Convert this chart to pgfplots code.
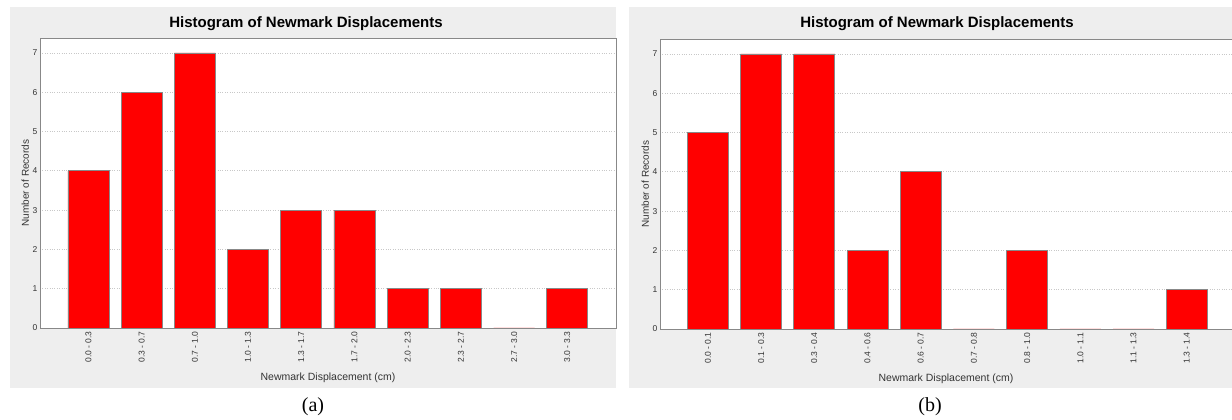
\documentclass[border=0pt]{standalone}
\usepackage{pgfplots}
\pgfplotsset{compat=1.18}
\usepackage{fontspec}
\setmainfont{Liberation Sans}
\newfontfamily\seriffont{Liberation Serif}
\definecolor{panelgray}{HTML}{EEEEEE}
\definecolor{axgray}{HTML}{888888}
\definecolor{gridgray}{HTML}{C8C8C8}
\definecolor{ticktext}{HTML}{333333}
\pgfplotsset{
  histo/.style={
    scale only axis, anchor=south west,
    width=576pt, height=290pt,
    ymin=0, ymax=7.38,
    ytick={0,1,2,3,4,5,6,7},
    ymajorgrids, grid style={gridgray, dotted, line width=0.8pt},
    axis line style={axgray, line width=0.8pt},
    axis background/.style={fill=white},
    xtick=data,
    major tick length=0pt,
    x tick label style={rotate=90, anchor=east, font=\fontsize{8.5}{9}\selectfont, text=ticktext},
    y tick label style={font=\fontsize{8.5}{9}\selectfont, text=ticktext, xshift=1pt},
    /pgf/number format/assume math mode=true,
    ylabel={Number of Records},
    ylabel style={font=\fontsize{10}{12}\selectfont, text=ticktext, yshift=-3pt},
    xlabel={Newmark Displacement (cm)},
    xlabel style={font=\fontsize{10.5}{12}\selectfont, text=ticktext, yshift=-3pt},
    ybar, bar width=41pt, bar shift=0pt,
  }
}
\begin{document}
\begin{tikzpicture}[x=1pt,y=1pt]
\fill[white] (0,0) rectangle (1232,420);
\useasboundingbox (0,0) rectangle (1232,420);
\fill[panelgray] (10,32) rectangle (616,413);
\fill[panelgray] (629,32) rectangle (1232,413);
\begin{axis}[histo, at={(40pt,92pt)}, xmin=-0.91, xmax=9.915,
  xticklabels={0.0 - 0.3,0.3 - 0.7,0.7 - 1.0,1.0 - 1.3,1.3 - 1.7,1.7 - 2.0,2.0 - 2.3,2.3 - 2.7,2.7 - 3.0,3.0 - 3.3}]
\addplot[fill=red, draw=axgray, line width=0.8pt] coordinates {(0,4) (1,6) (2,7) (3,2) (4,3) (5,3) (6,1) (7,1) (8,0) (9,1)};
\end{axis}
\begin{axis}[histo, at={(660pt,91pt)}, width=572pt, xmin=-0.90, xmax=9.85,
  xticklabels={0.0 - 0.1,0.1 - 0.3,0.3 - 0.4,0.4 - 0.6,0.6 - 0.7,0.7 - 0.8,0.8 - 1.0,1.0 - 1.1,1.1 - 1.3,1.3 - 1.4}]
\addplot[fill=red, draw=axgray, line width=0.8pt] coordinates {(0,5) (1,7) (2,7) (3,2) (4,4) (5,0) (6,2) (7,0) (8,0) (9,1)};
\end{axis}
\node[font=\bfseries\fontsize{15}{17}\selectfont] at (306,396) {Histogram of Newmark Displacements};
\node[font=\bfseries\fontsize{15}{17}\selectfont] at (937,396) {Histogram of Newmark Displacements};
\node[font=\seriffont\fontsize{20}{22}\selectfont] at (313,13) {(a)};
\node[font=\seriffont\fontsize{20}{22}\selectfont] at (930,13) {(b)};
\end{tikzpicture}
\end{document}
